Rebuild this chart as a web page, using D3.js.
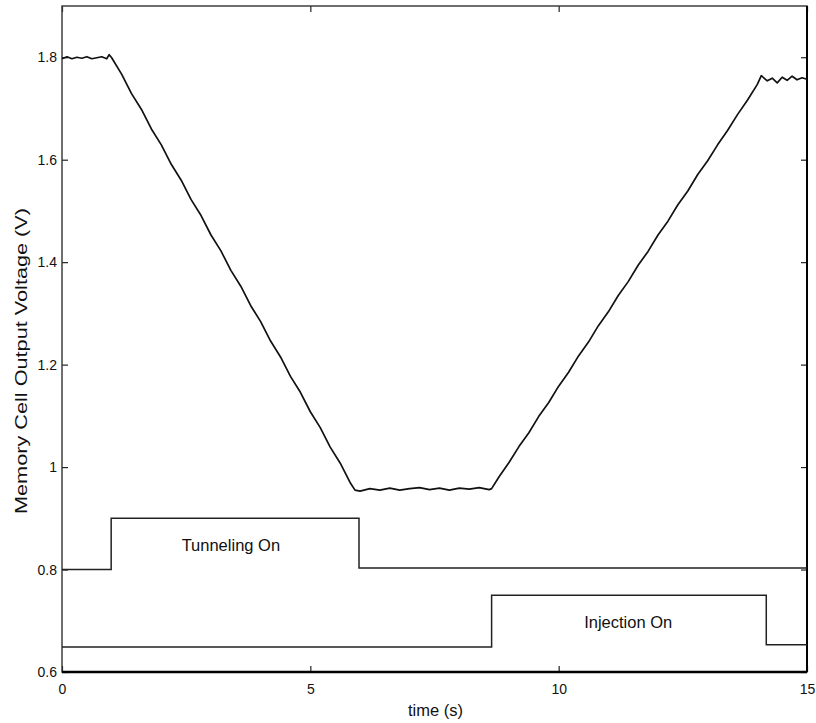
<!DOCTYPE html>
<html>
<head>
	<meta charset="utf-8">
	<title>Memory cell output</title>
	<script src="https://cdn.jsdelivr.net/npm/d3@7/dist/d3.min.js"></script>
	<style>
		body { margin: 0; background: #fff; }
		text { font-family: "Liberation Sans", Arial, sans-serif; fill: #111; }
	</style>
</head>
<body>
<script>

// measured trace: time (s) and output voltage (V)
var traceTime = [0, 0.1, 0.2, 0.3, 0.4, 0.5, 0.6, 0.7, 0.8, 0.9, 0.95, 1.0,
	1.2, 1.4, 1.6, 1.8, 2.0, 2.2, 2.4, 2.6, 2.8, 3.0, 3.2, 3.4, 3.6, 3.8,
	4.0, 4.2, 4.4, 4.6, 4.8, 5.0, 5.2, 5.4, 5.6, 5.8, 5.9,
	6.0, 6.2, 6.4, 6.6, 6.8, 7.0, 7.2, 7.4, 7.6, 7.8, 8.0, 8.2, 8.4, 8.6, 8.65,
	8.8, 9.0, 9.2, 9.4, 9.6, 9.8, 10.0, 10.2, 10.4, 10.6, 10.8, 11.0, 11.2,
	11.4, 11.6, 11.8, 12.0, 12.2, 12.4, 12.6, 12.8, 13.0, 13.2, 13.4, 13.6,
	13.8, 14.0, 14.08, 14.2, 14.3, 14.4, 14.5, 14.6, 14.7, 14.8, 14.9, 15.0];
var traceVolt = [1.797, 1.801, 1.797, 1.800, 1.798, 1.801, 1.797, 1.799, 1.801, 1.797, 1.805, 1.799,
	1.767, 1.729, 1.698, 1.660, 1.629, 1.591, 1.560, 1.522, 1.491, 1.453, 1.422, 1.384, 1.353, 1.315,
	1.284, 1.246, 1.215, 1.177, 1.146, 1.108, 1.077, 1.039, 1.008, 0.970, 0.955,
	0.953, 0.958, 0.955, 0.959, 0.955, 0.958, 0.960, 0.956, 0.959, 0.955, 0.959, 0.957, 0.960, 0.956, 0.958,
	0.981, 1.009, 1.040, 1.067, 1.099, 1.126, 1.158, 1.185, 1.217, 1.244, 1.276, 1.303, 1.335,
	1.362, 1.394, 1.421, 1.453, 1.480, 1.512, 1.539, 1.571, 1.598, 1.629, 1.657, 1.688,
	1.716, 1.747, 1.764, 1.754, 1.759, 1.750, 1.761, 1.755, 1.763, 1.756, 1.760, 1.757];

// control signals (step levels, held until next time)
var tunnelTime = [0, 0.99, 5.98, 15];
var tunnelLevel = [0.8, 0.9, 0.803, 0.803];
var injectTime = [0, 8.65, 14.18, 15];
var injectLevel = [0.649, 0.75, 0.653, 0.653];

var xTicks = [0, 5, 10, 15];
var yTicks = [0.6, 0.8, 1, 1.2, 1.4, 1.6, 1.8];
var yTickLabels = ["0.6", "0.8", "1", "1.2", "1.4", "1.6", "1.8"];

var W = 816, H = 723;
var margin = {left: 62, top: 6, right: 9, bottom: 51};
var w = W - margin.left - margin.right;
var h = H - margin.top - margin.bottom;

var svg = d3.select("body").append("svg")
	.attr("width", W)
	.attr("height", H);

var g = svg.append("g")
	.attr("transform", "translate(" + margin.left + "," + margin.top + ")");

var x = d3.scaleLinear().domain([0, 15]).range([0, w]);
var y = d3.scaleLinear().domain([0.6, 1.9]).range([h, 0]);

// axes, ticks pointing inward
var axB = g.append("g").attr("transform", "translate(0," + h + ")")
	.call(d3.axisBottom(x).tickValues(xTicks).tickSize(-6).tickPadding(12).tickFormat(d3.format("d")));
var axL = g.append("g")
	.call(d3.axisLeft(y).tickValues(yTicks).tickSize(-6).tickPadding(5)
		.tickFormat(function(d, i) { return yTickLabels[i]; }));
var axT = g.append("g")
	.call(d3.axisTop(x).tickValues(xTicks).tickSize(-6).tickFormat(""));
var axR = g.append("g").attr("transform", "translate(" + w + ",0)")
	.call(d3.axisRight(y).tickValues(yTicks).tickSize(-6).tickFormat(""));

[axB, axL, axT, axR].forEach(function(a) {
	a.select(".domain").remove();
	a.selectAll("line").attr("stroke", "#222").attr("stroke-width", 1.2);
	a.selectAll("text").style("font-size", "14px").attr("fill", "#111");
});

// frame
g.append("rect")
	.attr("width", w).attr("height", h)
	.attr("fill", "none").attr("stroke", "#333").attr("stroke-width", 1.4);
g.append("line")
	.attr("x1", 0).attr("x2", w).attr("y1", h).attr("y2", h)
	.attr("stroke", "#000").attr("stroke-width", 2.6);
g.append("line")
	.attr("x1", w).attr("x2", w).attr("y1", 0).attr("y2", h)
	.attr("stroke", "#000").attr("stroke-width", 2);

var trace = d3.line()
	.x(function(d, i) { return x(traceTime[i]); })
	.y(function(d) { return y(d); });

g.append("path")
	.datum(traceVolt)
	.attr("d", trace)
	.attr("fill", "none")
	.attr("stroke", "#111")
	.attr("stroke-width", 1.7)
	.attr("stroke-linejoin", "round");

function stepPath(times) {
	return d3.line()
		.x(function(d, i) { return x(times[i]); })
		.y(function(d) { return y(d); })
		.curve(d3.curveStepAfter);
}

g.append("path")
	.datum(tunnelLevel)
	.attr("d", stepPath(tunnelTime))
	.attr("fill", "none").attr("stroke", "#222").attr("stroke-width", 1.5);
g.append("path")
	.datum(injectLevel)
	.attr("d", stepPath(injectTime))
	.attr("fill", "none").attr("stroke", "#222").attr("stroke-width", 1.5);

g.append("text")
	.attr("x", x(3.4)).attr("y", y(0.85) + 7)
	.attr("text-anchor", "middle")
	.style("font-size", "16.5px")
	.text("Tunneling On");
g.append("text")
	.attr("x", x(11.4)).attr("y", y(0.7) + 7)
	.attr("text-anchor", "middle")
	.style("font-size", "16.5px")
	.text("Injection On");

// axis titles
svg.append("text")
	.attr("x", margin.left + w / 2 + 1)
	.attr("y", 716)
	.attr("text-anchor", "middle")
	.style("font-size", "16.5px")
	.text("time (s)");

svg.append("text")
	.attr("transform", "translate(27,361) rotate(-90)")
	.attr("text-anchor", "middle")
	.style("font-size", "17px")
	.attr("textLength", 306)
	.attr("lengthAdjust", "spacingAndGlyphs")
	.text("Memory Cell Output Voltage (V)");

</script>
</body>
</html>
